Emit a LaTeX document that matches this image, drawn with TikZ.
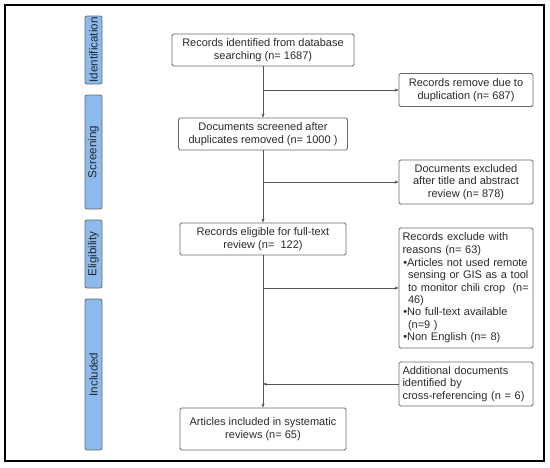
\documentclass[tikz,border=0pt]{standalone}
\usepackage{fontspec}
\setmainfont{Liberation Sans}
\usetikzlibrary{arrows.meta}
\definecolor{lblue}{HTML}{8CBAEC}
\definecolor{boxgray}{HTML}{6A6A6A}
\definecolor{txt}{HTML}{2A2A2A}
\begin{document}
\begin{tikzpicture}[x=1pt,y=-1pt,
  every node/.style={font=\fontsize{11}{12.4}\selectfont, text=txt},
  flowbox/.style={draw=boxgray, line width=0.8pt, rounded corners=1.5pt, align=center, inner sep=3pt},
  sidebox/.style={draw=boxgray, line width=0.8pt, fill=lblue, rounded corners=2pt, rotate=90, minimum height=17, inner sep=0pt, font=\fontsize{11.6}{13}\selectfont, text=black!85},
  arr/.style={draw=boxgray!80!black, line width=0.8pt, -{Stealth[length=4pt,width=3.2pt]}},
  ln/.style={draw=boxgray!80!black, line width=0.8pt}]
\useasboundingbox (0,0) rectangle (550,467);
\fill[white] (0,0) rectangle (550,467);
\draw[line width=1.8pt] (5,5) rectangle (544,461);
% side labels
\node[sidebox, minimum width=68] (sid) at (93.5,50) {Identification};
\node[sidebox, minimum width=114] (sscr) at (93.5,152) {Screening};
\node[sidebox, minimum width=68] (selig) at (93.5,254) {Eligibility};
\node[sidebox, minimum width=151] (sinc) at (93.5,374.5) {Included};
% main column
\node[flowbox, minimum width=182, minimum height=32] (b1) at (263,50) {Records identified from database\\searching (n= 1687)};
\node[flowbox, minimum width=169, minimum height=32] (b2) at (263,134) {Documents screened after\\duplicates removed (n= 1000 )};
\node[flowbox, minimum width=166, minimum height=32] (b3) at (263,239) {Records eligible for full-text\\review (n=\ \ 122)};
\node[flowbox, minimum width=166, minimum height=42] (b4) at (263,429) {Articles included in systematic\\reviews (n= 65)};
% right column
\node[flowbox, minimum width=134, minimum height=33] (r1) at (466,90) {Records remove due to\\duplication (n= 687)};
\node[flowbox, minimum width=134, minimum height=44] (r2) at (466,182) {Documents excluded\\after title and abstract\\review (n= 878)};
\node[flowbox, minimum width=134, minimum height=120, align=left, text width=127, inner sep=3.5pt] (r3) at (466,288) {Records exclude with\\reasons (n= 63)\\[0.6pt]
\hspace*{0.8pt}•Articles not used remote\\
\hspace*{5.5pt}sensing or GIS as a tool\\
\hspace*{5.5pt}to monitor chili crop\ \ (n=\\
\hspace*{5.5pt}46)\\
\hspace*{0.8pt}•No full-text available\\
\hspace*{5.5pt}(n=9 )\\
\hspace*{0.8pt}•Non English (n= 8)};
\node[flowbox, minimum width=134, minimum height=44, align=left, text width=127, inner sep=3.5pt] (r4) at (466,384) {Additional documents\\identified by\\cross-referencing (n = 6)};
% connectors
\draw[arr] (b1) -- (b2);
\draw[arr] (b2) -- (b3);
\draw[arr] (b3) -- (b4);
\draw[arr] (r1.west -| b1.south) -- (r1.west);
\draw[arr] (r2.west -| b2.south) -- (r2.west);
\draw[arr] (r3.west -| b3.south) -- (r3.west);
\draw[arr] (r4.west) -- (r4.west -| b3.south);
\end{tikzpicture}
\end{document}
